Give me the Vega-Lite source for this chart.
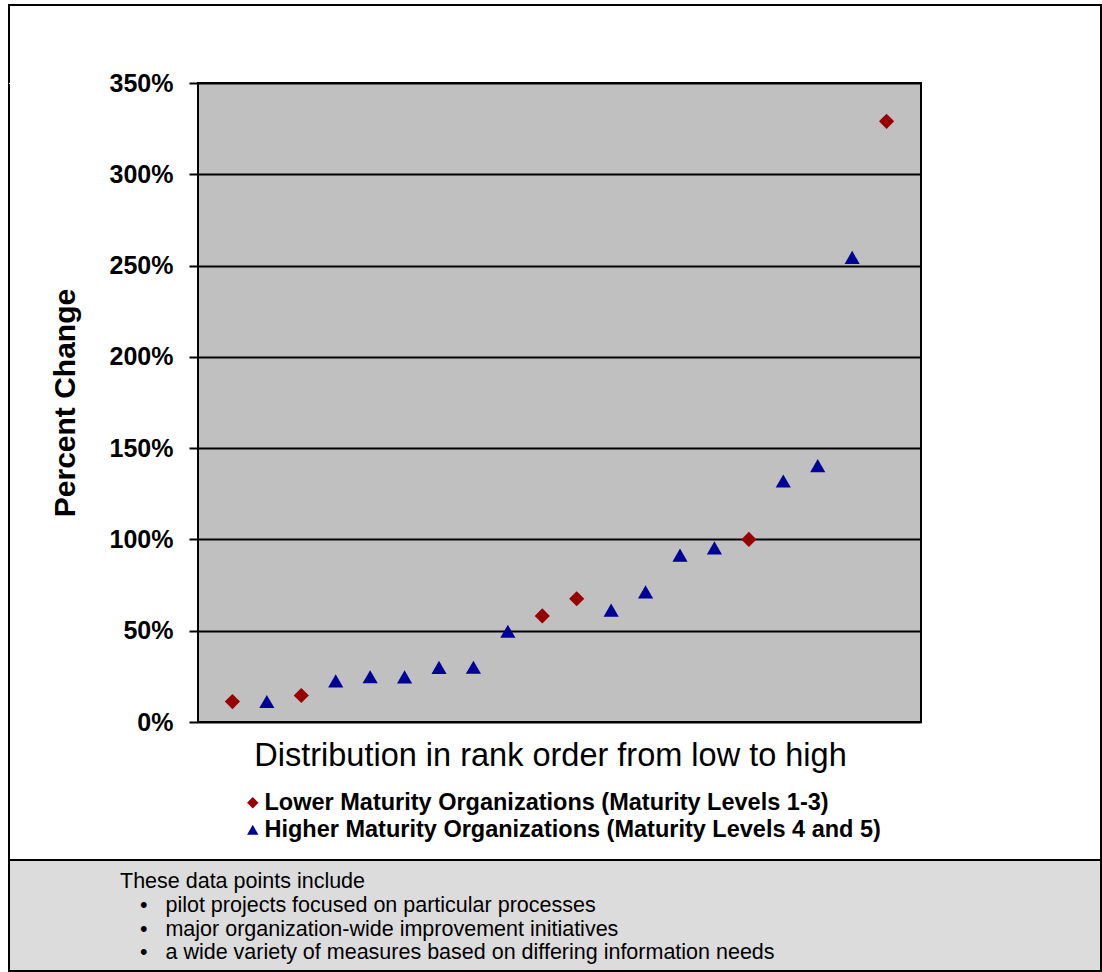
{
  "$schema": "https://vega.github.io/schema/vega-lite/v6.json",
  "background": "white",
  "padding": {"left": 8, "top": 4, "right": 0, "bottom": 0},
  "config": {"font": "Liberation Sans", "view": {"stroke": null}},
  "columns": 1,
  "align": "none",
  "spacing": -2,
  "concat": [
    {
      "columns": 1,
      "align": "none",
      "spacing": -791,
      "concat": [
        {
          "width": 1092,
          "height": 855,
          "view": {"stroke": "black", "strokeWidth": 2},
          "data": {"values": []},
          "mark": "point"
        },
        {
          "spacing": 39,
          "hconcat": [
            {
              "width": 1,
              "height": 1,
              "view": {"stroke": null, "fill": "white"},
              "data": {"values": []},
              "mark": "point"
            },
            {
              "width": 723,
              "height": 639,
              "view": {"fill": "#c0c0c0", "stroke": "black", "strokeWidth": 2},
              "data": {
                "values": [
                  {"rank": 1, "pct": 0.112, "group": "Lower Maturity Organizations (Maturity Levels 1-3)"},
                  {"rank": 2, "pct": 0.112, "group": "Higher Maturity Organizations (Maturity Levels 4 and 5)"},
                  {"rank": 3, "pct": 0.145, "group": "Lower Maturity Organizations (Maturity Levels 1-3)"},
                  {"rank": 4, "pct": 0.225, "group": "Higher Maturity Organizations (Maturity Levels 4 and 5)"},
                  {"rank": 5, "pct": 0.248, "group": "Higher Maturity Organizations (Maturity Levels 4 and 5)"},
                  {"rank": 6, "pct": 0.247, "group": "Higher Maturity Organizations (Maturity Levels 4 and 5)"},
                  {"rank": 7, "pct": 0.299, "group": "Higher Maturity Organizations (Maturity Levels 4 and 5)"},
                  {"rank": 8, "pct": 0.3, "group": "Higher Maturity Organizations (Maturity Levels 4 and 5)"},
                  {"rank": 9, "pct": 0.497, "group": "Higher Maturity Organizations (Maturity Levels 4 and 5)"},
                  {"rank": 10, "pct": 0.581, "group": "Lower Maturity Organizations (Maturity Levels 1-3)"},
                  {"rank": 11, "pct": 0.675, "group": "Lower Maturity Organizations (Maturity Levels 1-3)"},
                  {"rank": 12, "pct": 0.613, "group": "Higher Maturity Organizations (Maturity Levels 4 and 5)"},
                  {"rank": 13, "pct": 0.713, "group": "Higher Maturity Organizations (Maturity Levels 4 and 5)"},
                  {"rank": 14, "pct": 0.914, "group": "Higher Maturity Organizations (Maturity Levels 4 and 5)"},
                  {"rank": 15, "pct": 0.954, "group": "Higher Maturity Organizations (Maturity Levels 4 and 5)"},
                  {"rank": 16, "pct": 1.0, "group": "Lower Maturity Organizations (Maturity Levels 1-3)"},
                  {"rank": 17, "pct": 1.32, "group": "Higher Maturity Organizations (Maturity Levels 4 and 5)"},
                  {"rank": 18, "pct": 1.404, "group": "Higher Maturity Organizations (Maturity Levels 4 and 5)"},
                  {"rank": 19, "pct": 2.545, "group": "Higher Maturity Organizations (Maturity Levels 4 and 5)"},
                  {"rank": 20, "pct": 3.29, "group": "Lower Maturity Organizations (Maturity Levels 1-3)"}
                ]
              },
              "mark": {"type": "point", "filled": true, "size": 230, "opacity": 1},
              "encoding": {
                "x": {
                  "field": "rank",
                  "type": "quantitative",
                  "scale": {"domain": [0, 21], "nice": false, "zero": false},
                  "axis": {
                    "title": "Distribution in rank order from low to high",
                    "labels": false,
                    "ticks": false,
                    "grid": false,
                    "domain": false,
                    "titleFontSize": 32.5,
                    "titleFontWeight": "normal",
                    "titleColor": "black",
                    "titlePadding": 17,
                    "titleX": 352,
                    "titleAlign": "center"
                  }
                },
                "y": {
                  "field": "pct",
                  "type": "quantitative",
                  "scale": {"domain": [0, 3.5], "nice": false},
                  "axis": {
                    "title": "Percent Change",
                    "format": ".0%",
                    "values": [0, 0.5, 1, 1.5, 2, 2.5, 3, 3.5],
                    "domain": false,
                    "labelFontSize": 25,
                    "labelFontWeight": "bold",
                    "labelColor": "black",
                    "labelPadding": 16,
                    "tickSize": 9,
                    "tickWidth": 2,
                    "tickColor": "black",
                    "grid": true,
                    "gridColor": "black",
                    "gridWidth": 2,
                    "gridOpacity": 1,
                    "titleFontSize": 30,
                    "titleFontWeight": "bold",
                    "titleColor": "black",
                    "titlePadding": 29
                  }
                },
                "color": {
                  "field": "group",
                  "type": "nominal",
                  "scale": {
                    "domain": ["Lower Maturity Organizations (Maturity Levels 1-3)", "Higher Maturity Organizations (Maturity Levels 4 and 5)"],
                    "range": ["#990000", "#000099"]
                  },
                  "legend": {
                    "title": null,
                    "orient": "none",
                    "legendX": 232,
                    "legendY": 786,
                    "direction": "vertical",
                    "padding": 0,
                    "labelFontSize": 23.5,
                    "labelFontWeight": "bold",
                    "labelColor": "black",
                    "labelOffset": 0,
                    "labelLimit": 800,
                    "symbolSize": 130,
                    "rowPadding": 2
                  }
                },
                "shape": {
                  "field": "group",
                  "type": "nominal",
                  "scale": {
                    "domain": ["Lower Maturity Organizations (Maturity Levels 1-3)", "Higher Maturity Organizations (Maturity Levels 4 and 5)"],
                    "range": ["diamond", "triangle-up"]
                  },
                  "legend": {
                    "title": null,
                    "orient": "none",
                    "legendX": 232,
                    "legendY": 786,
                    "direction": "vertical",
                    "padding": 0,
                    "labelFontSize": 23.5,
                    "labelFontWeight": "bold",
                    "labelColor": "black",
                    "labelOffset": 0,
                    "labelLimit": 800,
                    "symbolSize": 130,
                    "rowPadding": 2
                  }
                }
              }
            }
          ]
        }
      ]
    },
    {
      "width": 1092,
      "height": 111,
      "view": {"fill": "#dcdcdc", "stroke": "black", "strokeWidth": 2},
      "data": {
        "values": [
          {"line": 0, "level": 0, "text": "These data points include"},
          {"line": 1, "level": 1, "text": "•\u00a0\u00a0\u00a0pilot projects focused on particular processes"},
          {"line": 2, "level": 1, "text": "•\u00a0\u00a0\u00a0major organization-wide improvement initiatives"},
          {"line": 3, "level": 1, "text": "•\u00a0\u00a0\u00a0a wide variety of measures based on differing information needs"}
        ]
      },
      "mark": {"type": "text", "align": "left", "baseline": "middle", "fontSize": 21.5, "color": "black"},
      "encoding": {
        "x": {"field": "level", "type": "quantitative", "scale": {"domain": [-5.55, 49.05], "nice": false, "zero": false}, "axis": null},
        "y": {"field": "line", "type": "quantitative", "scale": {"domain": [-0.95, 3.74], "nice": false, "zero": false, "reverse": true}, "axis": null},
        "text": {"field": "text"}
      }
    }
  ]
}
